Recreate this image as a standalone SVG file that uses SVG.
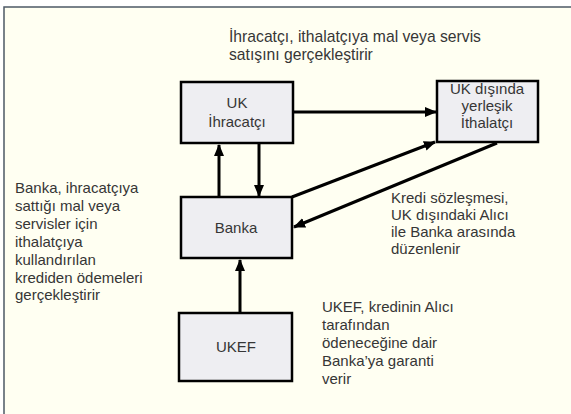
<svg xmlns="http://www.w3.org/2000/svg" width="571" height="414" viewBox="0 0 571 414">
<style>
text{font-family:"Liberation Sans",Arial,sans-serif;font-size:15px;fill:#363636}
.c{text-anchor:middle}
.t{font-size:15.7px}
.box{fill:#eeeef2;stroke:#000;stroke-width:2.5}
.ln{stroke:#000;stroke-width:3;fill:none}
</style>
<defs>
<marker id="ah" markerUnits="userSpaceOnUse" markerWidth="12" markerHeight="12" viewBox="0 0 12 12" refX="11" refY="6" orient="auto">
<path d="M0,1 L12,6 L0,11 Z" fill="#000"/>
</marker>
</defs>
<rect x="0" y="0" width="571" height="414" fill="#ffffff"/>
<rect x="4" y="7" width="567" height="407" fill="#fffff2"/>
<path d="M4,414 V7 H571" stroke="#4e5a66" stroke-width="1.5" fill="none"/>

<g id="connectors">
<line class="ln" x1="294" y1="112" x2="436" y2="112" marker-end="url(#ah)"/>
<line class="ln" x1="219" y1="197" x2="219" y2="145" marker-end="url(#ah)"/>
<line class="ln" x1="259" y1="143" x2="259" y2="196" marker-end="url(#ah)"/>
<line class="ln" x1="292" y1="197" x2="435" y2="142" marker-end="url(#ah)"/>
<line class="ln" x1="497" y1="143" x2="294" y2="227" marker-end="url(#ah)"/>
<line class="ln" x1="240" y1="313" x2="240" y2="260" marker-end="url(#ah)"/>
</g>

<g id="exporter">
<rect class="box" x="181" y="82" width="112" height="61"/>
<text class="c" x="237" y="108">UK</text>
<text class="c" x="237" y="127">İhracatçı</text>
</g>
<g id="importer">
<rect class="box" x="437" y="81" width="101" height="61"/>
<text class="c" x="487" y="94">UK dışında</text>
<text class="c" x="487" y="111">yerleşik</text>
<text class="c" x="487" y="128">İthalatçı</text>
</g>
<g id="bank">
<rect class="box" x="181" y="197" width="111" height="61"/>
<text class="c" x="236" y="233">Banka</text>
</g>
<g id="ukef">
<rect class="box" x="179" y="313" width="113" height="68"/>
<text class="c" x="236" y="352">UKEF</text>
</g>

<g id="labels">
<text class="t" x="229" y="42">İhracatçı, ithalatçıya mal veya servis</text>
<text class="t" x="229" y="60">satışını gerçekleştirir</text>
<text x="15" y="193">Banka, ihracatçıya</text>
<text x="15" y="211">sattığı mal veya</text>
<text x="15" y="229">servisler için</text>
<text x="15" y="247">ithalatçıya</text>
<text x="15" y="265">kullandırılan</text>
<text x="15" y="283">krediden ödemeleri</text>
<text x="15" y="300">gerçekleştirir</text>
<text x="391" y="203">Kredi sözleşmesi,</text>
<text x="391" y="220">UK dışındaki Alıcı</text>
<text x="391" y="237">ile Banka arasında</text>
<text x="391" y="254">düzenlenir</text>
<text x="322" y="312">UKEF, kredinin Alıcı</text>
<text x="322" y="330">tarafından</text>
<text x="322" y="348">ödeneceğine dair</text>
<text x="322" y="366">Banka’ya garanti</text>
<text x="322" y="384">verir</text>
</g>
</svg>
